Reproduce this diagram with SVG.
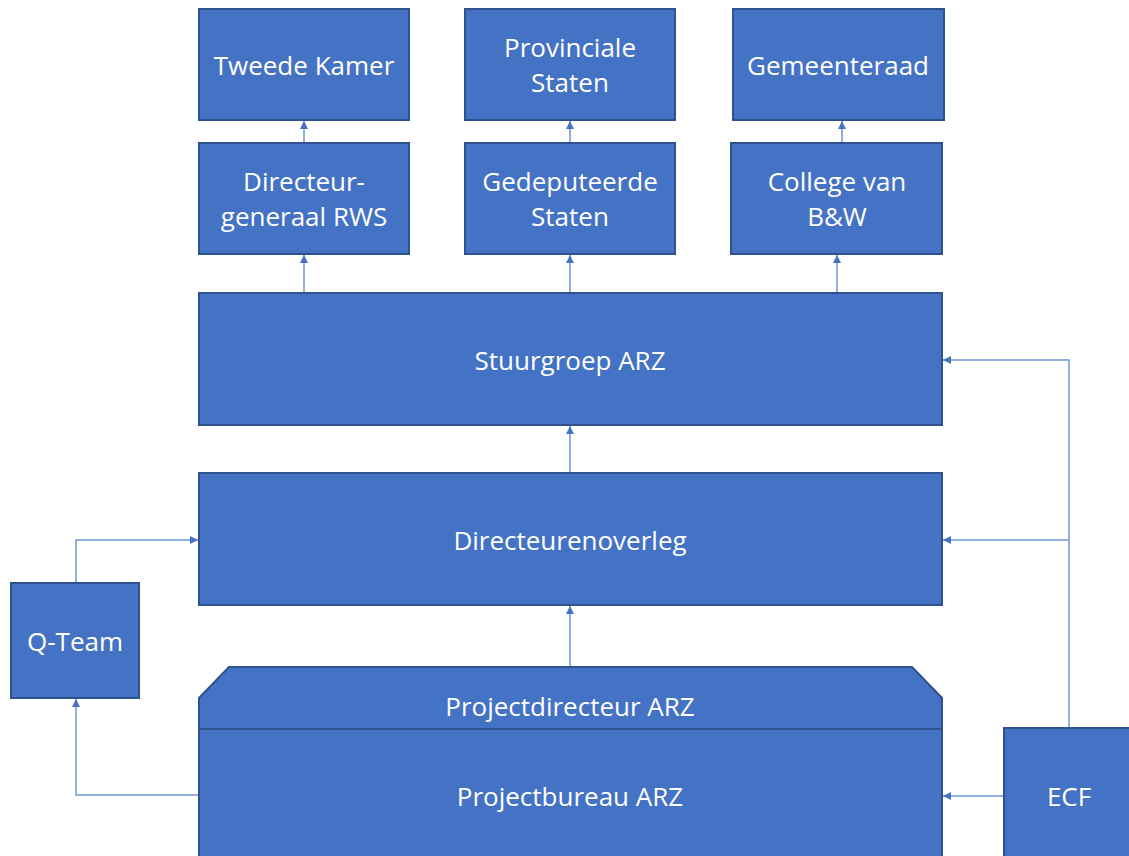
<svg xmlns="http://www.w3.org/2000/svg" width="1129" height="856" viewBox="0 0 1129 856">
<style>
.n{fill:#4472C4;stroke:#2F528F;stroke-width:2}
.t{fill:#fff;font-family:"Open Sans","Liberation Sans",sans-serif;font-size:26px;text-anchor:middle;dominant-baseline:central}
.c{fill:none;stroke:#6E95D8;stroke-width:1.5}
</style>
<defs>
<marker id="a" viewBox="0 0 10 10" refX="10" refY="5" markerWidth="8" markerHeight="8" orient="auto" markerUnits="userSpaceOnUse">
<path d="M0,0 L10,5 L0,10 z" fill="#4472C4"/>
</marker>
</defs>
<rect width="1129" height="856" fill="#fff"/>
<g id="connectors">
<path class="c" d="M304,293 V255" marker-end="url(#a)"/>
<path class="c" d="M570,293 V255" marker-end="url(#a)"/>
<path class="c" d="M837,293 V255" marker-end="url(#a)"/>
<path class="c" d="M304,143 V121" marker-end="url(#a)"/>
<path class="c" d="M570,143 V121" marker-end="url(#a)"/>
<path class="c" d="M842,143 V121" marker-end="url(#a)"/>
<path class="c" d="M570,473 V426" marker-end="url(#a)"/>
<path class="c" d="M570,667 V606" marker-end="url(#a)"/>
<path class="c" d="M1069,728 V360 H943" marker-end="url(#a)"/>
<path class="c" d="M1069,540 H943" marker-end="url(#a)"/>
<path class="c" d="M1004,796 H943" marker-end="url(#a)"/>
<path class="c" d="M199,795 H76 V699" marker-end="url(#a)"/>
<path class="c" d="M76,583 V540 H198" marker-end="url(#a)"/>
</g>
<g id="tweede-kamer"><rect class="n" x="199" y="9" width="210" height="111"/><text class="t" x="304" y="65">Tweede Kamer</text></g>
<g id="provinciale-staten"><rect class="n" x="465" y="9" width="210" height="111"/><text class="t" x="570" y="47">Provinciale</text><text class="t" x="570" y="82">Staten</text></g>
<g id="gemeenteraad"><rect class="n" x="733" y="9" width="211" height="111"/><text class="t" x="838" y="65">Gemeenteraad</text></g>
<g id="dg-rws"><rect class="n" x="199" y="143" width="210" height="111"/><text class="t" x="304" y="181">Directeur-</text><text class="t" x="304" y="216">generaal RWS</text></g>
<g id="gedeputeerde-staten"><rect class="n" x="465" y="143" width="210" height="111"/><text class="t" x="570" y="181">Gedeputeerde</text><text class="t" x="570" y="216">Staten</text></g>
<g id="college-bw"><rect class="n" x="731" y="143" width="211" height="111"/><text class="t" x="837" y="181">College van</text><text class="t" x="837" y="216">B&amp;W</text></g>
<g id="stuurgroep"><rect class="n" x="199" y="293" width="743" height="132"/><text class="t" x="570" y="360">Stuurgroep ARZ</text></g>
<g id="directeurenoverleg"><rect class="n" x="199" y="473" width="743" height="132"/><text class="t" x="570" y="540">Directeurenoverleg</text></g>
<g id="q-team"><rect class="n" x="11" y="583" width="128" height="115"/><text class="t" x="75" y="641">Q-Team</text></g>
<g id="project"><path class="n" d="M229,667 H912 L942,698 V870 H199 V698 Z"/><line x1="199" y1="729" x2="942" y2="729" stroke="#2F528F" stroke-width="2"/><text class="t" x="570" y="706">Projectdirecteur ARZ</text><text class="t" x="570" y="796">Projectbureau ARZ</text></g>
<g id="ecf"><rect class="n" x="1004" y="728" width="140" height="140"/><text class="t" x="1069" y="796">ECF</text></g>
</svg>
